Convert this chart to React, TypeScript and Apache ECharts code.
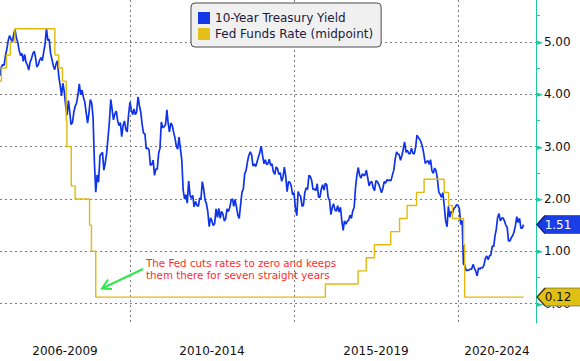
import React, { useEffect, useRef } from 'react';
import * as echarts from 'echarts';

// ---------- data ----------
const seriesNames = ['10-Year Treasury Yield', 'Fed Funds Rate (midpoint)'];

// 10-year yield, two readings per month (1st and 16th), one row per year
const treasuryYears = [2006, 2007, 2008, 2009, 2010, 2011, 2012, 2013, 2014, 2015, 2016, 2017, 2018, 2019, 2020, 2021];
const y2006 = [4.37, 4.36, 4.53, 4.57, 4.55, 4.73, 4.86, 5.02, 5.12, 5.06, 4.99, 5.14, 5.24, 5.08, 4.99, 4.84, 4.74, 4.78, 4.63, 4.76, 4.61, 4.56, 4.46, 4.61];
const y2007 = [4.68, 4.78, 4.82, 4.69, 4.52, 4.56, 4.65, 4.70, 4.64, 4.80, 4.96, 5.26, 5.03, 5.05, 4.78, 4.67, 4.54, 4.47, 4.58, 4.64, 4.33, 4.17, 3.97, 4.21];
const y2008 = [4.04, 3.78, 3.60, 3.88, 3.67, 3.42, 3.46, 3.66, 3.77, 3.83, 3.99, 4.20, 3.99, 4.08, 3.94, 3.85, 3.64, 3.45, 3.64, 3.90, 3.83, 3.55, 2.70, 2.13];
const y2009 = [2.46, 2.32, 2.83, 2.86, 2.89, 2.55, 2.69, 2.87, 3.16, 3.45, 3.90, 3.71, 3.51, 3.62, 3.68, 3.50, 3.40, 3.46, 3.19, 3.40, 3.49, 3.33, 3.28, 3.60];
const y2010 = [3.85, 3.70, 3.61, 3.72, 3.61, 3.66, 3.95, 3.78, 3.66, 3.43, 3.25, 3.25, 2.96, 2.97, 2.94, 2.64, 2.66, 2.74, 2.45, 2.57, 2.57, 2.87, 2.97, 3.47];
const y2011 = [3.36, 3.38, 3.42, 3.70, 3.46, 3.28, 3.45, 3.41, 3.28, 3.17, 3.01, 2.95, 3.18, 2.96, 2.74, 2.17, 2.00, 2.08, 1.92, 2.34, 2.07, 2.01, 2.07, 1.85];
const y2012 = [1.95, 1.88, 1.86, 2.02, 1.99, 2.33, 2.18, 1.98, 1.91, 1.76, 1.47, 1.64, 1.58, 1.49, 1.53, 1.81, 1.65, 1.82, 1.63, 1.76, 1.71, 1.58, 1.62, 1.81];
const y2013 = [1.76, 1.84, 1.98, 2.00, 1.86, 1.99, 1.84, 1.69, 1.63, 1.88, 2.13, 2.19, 2.48, 2.54, 2.71, 2.83, 2.90, 2.84, 2.63, 2.67, 2.62, 2.71, 2.80, 2.88];
const y2014 = [3.01, 2.83, 2.67, 2.75, 2.66, 2.67, 2.76, 2.64, 2.67, 2.52, 2.47, 2.61, 2.58, 2.47, 2.50, 2.34, 2.42, 2.61, 2.43, 2.14, 2.33, 2.32, 2.25, 2.08];
const y2015 = [2.12, 1.83, 1.68, 2.14, 2.08, 2.05, 1.86, 1.88, 2.12, 2.21, 2.18, 2.45, 2.43, 2.36, 2.18, 2.19, 2.16, 2.29, 2.04, 2.03, 2.19, 2.27, 2.17, 2.30];
const y2016 = [2.27, 2.03, 1.97, 1.70, 1.83, 1.91, 1.79, 1.77, 1.87, 1.75, 1.84, 1.59, 1.40, 1.58, 1.52, 1.57, 1.60, 1.69, 1.63, 1.77, 1.84, 2.22, 2.45, 2.60];
const y2017 = [2.45, 2.40, 2.48, 2.45, 2.45, 2.55, 2.40, 2.25, 2.32, 2.33, 2.21, 2.16, 2.35, 2.33, 2.28, 2.21, 2.12, 2.20, 2.33, 2.30, 2.37, 2.35, 2.36, 2.35];
const y2018 = [2.46, 2.55, 2.77, 2.90, 2.86, 2.85, 2.74, 2.83, 2.95, 3.09, 2.89, 2.93, 2.87, 2.86, 2.97, 2.87, 2.86, 2.99, 3.22, 3.17, 3.14, 3.08, 3.00, 2.86];
const y2019 = [2.68, 2.71, 2.73, 2.66, 2.75, 2.54, 2.49, 2.59, 2.54, 2.39, 2.13, 2.09, 2.03, 2.12, 1.86, 1.58, 1.47, 1.86, 1.65, 1.76, 1.73, 1.82, 1.84, 1.89];
const y2020 = [1.88, 1.81, 1.51, 1.59, 0.76, 0.73, 0.63, 0.64, 0.64, 0.66, 0.66, 0.75, 0.68, 0.62, 0.53, 0.68, 0.66, 0.69, 0.68, 0.74, 0.87, 0.91, 0.84, 0.91];
const y2021 = [0.93, 1.10, 1.09, 1.30, 1.41, 1.64, 1.72, 1.58, 1.63, 1.64, 1.58, 1.50, 1.46, 1.20, 1.20, 1.26, 1.30, 1.37, 1.49, 1.66, 1.55, 1.63, 1.44, 1.44];
const treasuryRows = [y2006, y2007, y2008, y2009, y2010, y2011, y2012, y2013, y2014, y2015, y2016, y2017, y2018, y2019, y2020, y2021];
const lastDate = '2021-12-31';
const lastYield = 1.51;

// Fed funds target midpoint, at each change date
const fedDates = ['2005-12-13', '2006-01-31', '2006-03-28', '2006-05-10', '2006-06-29', '2007-09-18', '2007-10-31', '2007-12-11', '2008-01-22', '2008-01-30', '2008-03-18', '2008-04-30', '2008-10-08', '2008-10-29', '2008-12-16', '2015-12-16', '2016-12-14', '2017-03-15', '2017-06-14', '2017-12-13', '2018-03-21', '2018-06-13', '2018-09-26', '2018-12-19', '2019-07-31', '2019-09-18', '2019-10-30', '2020-03-03', '2020-03-15', '2021-12-31'];
const fedValues = [4.25, 4.5, 4.75, 5.0, 5.25, 4.75, 4.5, 4.25, 3.5, 3.0, 2.25, 2.0, 1.5, 1.0, 0.125, 0.375, 0.625, 0.875, 1.125, 1.375, 1.625, 1.875, 2.125, 2.375, 2.125, 1.875, 1.625, 1.125, 0.125, 0.125];

const xTickLabels = ['2006-2009', '2010-2014', '2015-2019', '2020-2024'];
const xBoundaryYears = [2010, 2015, 2020];
const xRange = ['2006-01-15', '2022-05-18'];
const yRange = [-0.37, 5.8];
const yTickValues = [0, 1, 2, 3, 4, 5];
const yMinorValues = [0.5, 1.5, 2.5, 3.5, 4.5, 5.5];

const annotationLines = ['The Fed cuts rates to zero and keeps', 'them there for seven straight years'];

// ---------- build ----------
const ts = (s: string) => Date.parse(s + 'T00:00:00Z');
const xMin = ts(xRange[0]);
const xMax = ts(xRange[1]);
const boundaries = xBoundaryYears.map((y) => Date.UTC(y, 0, 1));
const edges = [xMin, ...boundaries, xMax];
const labelPositions = xTickLabels.map((_, i) => (edges[i] + edges[i + 1]) / 2);

const treasuryData: [number, number][] = [];
treasuryYears.forEach((year, yi) => {
  treasuryRows[yi].forEach((v, k) => {
    treasuryData.push([Date.UTC(year, Math.floor(k / 2), k % 2 === 0 ? 1 : 16), v]);
  });
});
treasuryData.push([ts(lastDate), lastYield]);

const fedData = fedDates.map((d, i) => [ts(d), fedValues[i]]);
const lastFed = fedValues[fedValues.length - 1];

const FONT = 'DejaVu Sans';
const BLUE = '#0f33e8';
const GOLD = '#e2b90c';
const TEAL = '#1fc99a';
const GRID = '#7c7c7c';
const BADGE = 'path://M0,9L8,0L60,0L60,18L8,18Z';

const trunc2 = (v: number) => (Math.floor(v * 100 + 1e-6) / 100).toFixed(2);

const option: any = {
  animation: false,
  textStyle: { fontFamily: FONT },
  grid: { left: 0, right: 44, top: 0, bottom: 38, containLabel: false },
  legend: {
    orient: 'vertical',
    left: 191,
    top: 3,
    backgroundColor: '#f0f0f0',
    borderColor: '#4a4a4a',
    borderWidth: 1,
    borderRadius: 4,
    padding: [9, 8, 7, 7],
    itemGap: 4,
    itemWidth: 12,
    itemHeight: 12,
    icon: 'rect',
    selectedMode: false,
    textStyle: { color: '#1a1a40', fontSize: 12, fontFamily: FONT },
    data: [
      { name: seriesNames[0], itemStyle: { color: '#1438e6' } },
      { name: seriesNames[1], itemStyle: { color: '#e3c11a' } },
    ],
  },
  xAxis: {
    type: 'value',
    min: xMin,
    max: xMax,
    axisLine: { show: false },
    axisTick: { show: false, customValues: boundaries },
    splitLine: { show: true, lineStyle: { color: GRID, type: [2, 3], width: 1 } },
    axisLabel: {
      customValues: labelPositions,
      formatter: (v: number, i: number) => {
        const idx = labelPositions.findIndex((p) => Math.abs(p - v) < 1000);
        return xTickLabels[idx >= 0 ? idx : i] ?? '';
      },
      margin: 22,
      color: '#111',
      fontSize: 12,
      fontFamily: FONT,
    },
  },
  yAxis: [
    {
      type: 'value',
      position: 'right',
      min: yRange[0],
      max: yRange[1],
      axisLine: { show: false },
      axisTick: { show: false, customValues: yTickValues },
      splitLine: { show: true, lineStyle: { color: GRID, type: [2, 3], width: 1 } },
      axisLabel: {
        customValues: yTickValues,
        margin: 0,
        formatter: (v: number) => `{t|►}{v|${v.toFixed(2)}}`,
        rich: {
          t: { color: TEAL, fontSize: 9, fontFamily: FONT, padding: [0, 1, 0, 0] },
          v: { color: '#111', fontSize: 12, fontFamily: FONT },
        },
      },
    },
    {
      type: 'value',
      position: 'right',
      min: yRange[0],
      max: yRange[1],
      axisLine: { show: true, lineStyle: { color: TEAL, width: 1 } },
      axisTick: { show: true, customValues: yMinorValues, length: 4, lineStyle: { color: TEAL, width: 1 } },
      splitLine: { show: false },
      axisLabel: { show: false },
    },
  ],
  series: [
    {
      name: seriesNames[0],
      type: 'line',
      yAxisIndex: 0,
      data: treasuryData,
      showSymbol: false,
      symbol: 'none',
      lineStyle: { color: BLUE, width: 1.7 },
      itemStyle: { color: BLUE },
      z: 2,
      markPoint: {
        silent: true,
        symbol: BADGE,
        symbolSize: [60, 18],
        symbolOffset: [31, 0],
        itemStyle: { color: '#1a3ee6', borderColor: '#0a1a7a', borderWidth: 1 },
        label: {
          show: true,
          color: '#ffffff',
          fontSize: 12,
          fontFamily: FONT,
          offset: [-9, 0],
          formatter: () => trunc2(lastYield),
        },
        data: [{ coord: [xMax, lastYield] }],
      },
    },
    {
      name: seriesNames[1],
      type: 'line',
      yAxisIndex: 0,
      step: 'end',
      data: fedData,
      showSymbol: false,
      symbol: 'none',
      lineStyle: { color: GOLD, width: 1.4 },
      itemStyle: { color: GOLD },
      z: 3,
      markPoint: {
        silent: true,
        symbol: BADGE,
        symbolSize: [60, 18],
        symbolOffset: [31, 0],
        itemStyle: { color: '#e0c014', borderColor: '#3a3a20', borderWidth: 1 },
        label: {
          show: true,
          color: '#111111',
          fontSize: 12,
          fontFamily: FONT,
          offset: [-9, 0],
          formatter: () => trunc2(lastFed),
        },
        data: [{ coord: [xMax, lastFed] }],
      },
    },
  ],
  graphic: [
    {
      type: 'text',
      left: 146,
      top: 257,
      silent: true,
      style: {
        text: annotationLines.join('\n'),
        fill: '#ff2a2a',
        font: `10.3px "${FONT}"`,
        lineHeight: 12,
      },
      z: 10,
    },
    {
      type: 'line',
      silent: true,
      shape: { x1: 143, y1: 269, x2: 103, y2: 288 },
      style: { stroke: '#2ee84a', lineWidth: 2 },
      z: 10,
    },
    {
      type: 'polyline',
      silent: true,
      shape: { points: [[108, 279.5], [102, 288.5], [112, 289]] },
      style: { stroke: '#2ee84a', lineWidth: 2, fill: 'none' },
      z: 10,
    },
  ],
};

export default function App() {
  const ref = useRef<HTMLDivElement>(null);
  useEffect(() => {
    if (!ref.current) return;
    const chart = echarts.init(ref.current, undefined, { renderer: 'svg' });
    chart.setOption(option);
    return () => chart.dispose();
  }, []);
  return <div ref={ref} style={{ position: 'absolute', left: 0, top: 0, width: 580, height: 361 }} />;
}
